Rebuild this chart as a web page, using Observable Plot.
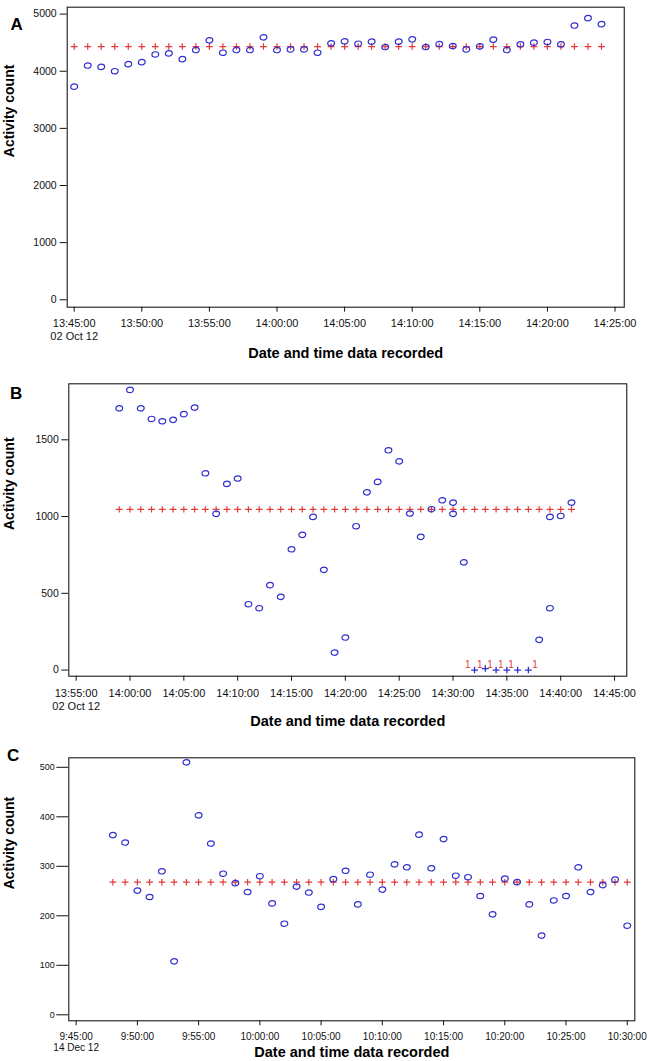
<!DOCTYPE html>
<html>
<head>
<meta charset="utf-8">
<script src="https://cdn.jsdelivr.net/npm/d3@7"></script>
<script src="https://cdn.jsdelivr.net/npm/@observablehq/plot@0.6"></script>
<style>
html, body { margin: 0; padding: 0; background: #fff; }
#chart svg { display: block; }
</style>
</head>
<body>
<div id="chart"></div>
<script>
// ---------- Panel A (02 Oct 12) ----------
const dayA = "2012-10-02";
const timesA = ["13:45","13:46","13:47","13:48","13:49","13:50","13:51","13:52","13:53","13:54",
  "13:55","13:56","13:57","13:58","13:59","14:00","14:01","14:02","14:03","14:04",
  "14:05","14:06","14:07","14:08","14:09","14:10","14:11","14:12","14:13","14:14",
  "14:15","14:16","14:17","14:18","14:19","14:20","14:21","14:22","14:23","14:24"];
const valuesA = [3730, 4100, 4076, 4000, 4124, 4159, 4294, 4312, 4212, 4371,
  4541, 4324, 4371, 4371, 4594, 4371, 4382, 4382, 4324, 4488,
  4524, 4482, 4518, 4424, 4518, 4559, 4424, 4476, 4441, 4382,
  4435, 4553, 4371, 4471, 4500, 4512, 4471, 4800, 4929, 4824];
const meanTimesA = timesA;
const meanA = 4432;
const xTicksA = ["13:45","13:50","13:55","14:00","14:05","14:10","14:15","14:20","14:25"];
const yTicksA = [0, 1000, 2000, 3000, 4000, 5000];

// ---------- Panel B (02 Oct 12) ----------
const dayB = "2012-10-02";
const timesB = ["13:59","14:00","14:01","14:02","14:03","14:04","14:05","14:06","14:07","14:08",
  "14:09","14:10","14:11","14:12","14:13","14:14","14:15","14:16","14:17","14:18",
  "14:19","14:20","14:21","14:22","14:23","14:24","14:25","14:26","14:27","14:28",
  "14:29","14:30","14:30","14:31","14:38","14:39","14:39","14:40","14:41"];
const valuesB = [1705, 1825, 1705, 1636, 1621, 1630, 1667, 1710, 1282, 1018,
  1213, 1248, 429, 403, 553, 477, 787, 881, 998, 653,
  114, 212, 937, 1158, 1226, 1432, 1360, 1020, 868, 1048,
  1106, 1091, 1018, 702, 197, 998, 403, 1004, 1091];
const meanTimesB = ["13:59","14:00","14:01","14:02","14:03","14:04","14:05","14:06","14:07","14:08",
  "14:09","14:10","14:11","14:12","14:13","14:14","14:15","14:16","14:17","14:18",
  "14:19","14:20","14:21","14:22","14:23","14:24","14:25","14:26","14:27","14:28",
  "14:29","14:30","14:31","14:32","14:33","14:34","14:35","14:36","14:37","14:38",
  "14:39","14:40","14:41"];
const meanB = 1047;
const zeroTimesB = ["14:32","14:33","14:34","14:35","14:36","14:37"];
const zeroValuesB = [0, 10, 0, 0, 0, 0];
const flagTimesB = ["14:31:22","14:32:29","14:33:26","14:34:26","14:35:23","14:37:37"];
const flagValuesB = [35, 35, 35, 35, 35, 35];
const flagTextB = ["1", "1", "1", "1", "1", "1"];
const xTicksB = ["13:55","14:00","14:05","14:10","14:15","14:20","14:25","14:30","14:35","14:40","14:45"];
const yTicksB = [0, 500, 1000, 1500];

// ---------- Panel C (14 Dec 12) ----------
const dayC = "2012-12-14";
const timesC = ["09:48","09:49","09:50","09:51","09:52","09:53","09:54","09:55","09:56","09:57",
  "09:58","09:59","10:00","10:01","10:02","10:03","10:04","10:05","10:06","10:07",
  "10:08","10:09","10:10","10:11","10:12","10:13","10:14","10:15","10:16","10:17",
  "10:18","10:19","10:20","10:21","10:22","10:23","10:24","10:25","10:26","10:27",
  "10:28","10:29","10:30"];
const valuesC = [363, 348, 251, 238, 290, 108, 510, 403, 346, 285,
  266, 248, 280, 225, 184, 259, 247, 218, 274, 291,
  223, 283, 253, 304, 298, 364, 296, 355, 281, 278,
  240, 203, 275, 268, 223, 160, 231, 240, 298, 248,
  262, 273, 180];
const meanTimesC = timesC;
const meanC = 268;
const xTicksC = ["09:45","09:50","09:55","10:00","10:05","10:10","10:15","10:20","10:25","10:30"];
const yTicksC = [0, 100, 200, 300, 400, 500];

// ---------- helpers ----------
const toDate = (day, t) => new Date(day + "T" + (t.length === 5 ? t + ":00" : t) + "Z");
const BLUE = "#2f2fcf";
const RED = "#e23a3a";
const FONT = "'Liberation Sans', Arial, Helvetica, sans-serif";

const ellipse = {
  draw(ctx, size) {
    const r = Math.sqrt(size / Math.PI), rx = r, ry = r * 0.8, k = 0.5523;
    ctx.moveTo(rx, 0);
    ctx.bezierCurveTo(rx, ry * k, rx * k, ry, 0, ry);
    ctx.bezierCurveTo(-rx * k, ry, -rx, ry * k, -rx, 0);
    ctx.bezierCurveTo(-rx, -ry * k, -rx * k, -ry, 0, -ry);
    ctx.bezierCurveTo(rx * k, -ry, rx, -ry * k, rx, 0);
    ctx.closePath();
  }
};
const cross = {
  draw(ctx, size) {
    const r = Math.sqrt(size / Math.PI);
    ctx.moveTo(-r, 0); ctx.lineTo(r, 0);
    ctx.moveTo(0, -r * 0.95); ctx.lineTo(0, r * 0.95);
  }
};

function panel(cfg) {
  const {day, times, values, meanTimes, mean, xTicks, yTicks, xDomain, yDomain,
    height, margin, letter, letterPos, yLabelX, xLabelDy, hourFmt, dateFmt,
    xFont, yFont, xLineHeight, yTickSize, yTickPadding, xTickPadding, extra = []} = cfg;
  const pts = times.map((t, i) => ({t: toDate(day, t), v: values[i]}));
  const means = meanTimes.map(t => ({t: toDate(day, t), v: mean}));
  const ticks = xTicks.map(t => toDate(day, t));
  const first = +ticks[0];
  const fmtH = d3.utcFormat(hourFmt), fmtD = d3.utcFormat(dateFmt);
  const [mt, mr, mb, ml] = margin;
  return Plot.plot({
    width: 649,
    height,
    marginTop: mt, marginRight: mr, marginBottom: mb, marginLeft: ml,
    style: {fontFamily: FONT, color: "#111", background: "#fff"},
    x: {type: "utc", domain: xDomain.map(t => toDate(day, t))},
    y: {domain: yDomain},
    marks: [
      Plot.frame({stroke: "#1a1a1a", strokeWidth: 1.1}),
      Plot.axisX({ticks, tickFormat: d => +d === first ? fmtH(d) + "\n" + fmtD(d) : fmtH(d),
        tickSize: 5, tickPadding: xTickPadding, fontSize: xFont, lineHeight: xLineHeight, label: null}),
      Plot.axisY({ticks: yTicks, tickFormat: d3.format("d"), tickSize: yTickSize, tickPadding: yTickPadding,
        fontSize: yFont, label: null}),
      Plot.dot(means, {x: "t", y: "v", r: 3.4, symbol: cross, stroke: RED, strokeWidth: 1.2, fill: "none"}),
      Plot.dot(pts, {x: "t", y: "v", r: 3.4, symbol: ellipse, stroke: BLUE, strokeWidth: 1.2, fill: "none"}),
      ...extra,
      Plot.text(["Activity count"], {text: d => d, frameAnchor: "left", dx: yLabelX - ml, rotate: -90,
        fontWeight: "bold", fontSize: 14, fill: "#000"}),
      Plot.text(["Date and time data recorded"], {text: d => d, frameAnchor: "bottom", dy: xLabelDy,
        fontWeight: "bold", fontSize: 14.5, fill: "#000"}),
      Plot.text([letter], {text: d => d, frameAnchor: "top-left", dx: letterPos[0] - ml, dy: letterPos[1],
        fontWeight: "bold", fontSize: 17, fill: "#000"})
    ]
  });
}

const chart = document.getElementById("chart");

chart.append(panel({
  day: dayA, times: timesA, values: valuesA, meanTimes: meanTimesA, mean: meanA,
  xTicks: xTicksA, yTicks: yTicksA,
  xDomain: ["13:44:29", "14:25:41"], yDomain: [-130, 5121],
  height: 368, margin: [6.7, 25.25, 61.3, 66.7],
  letter: "A", letterPos: [10, 10.5], yLabelX: 9, xLabelDy: 50.3,
  hourFmt: "%H:%M:%S", dateFmt: "%d %b %y",
  xFont: 11, yFont: 10.5, xLineHeight: 1.18, yTickSize: 7, yTickPadding: 3.5, xTickPadding: 6
}));

const zerosB = zeroTimesB.map((t, i) => ({t: toDate(dayB, t), v: zeroValuesB[i]}));
const flagsB = flagTimesB.map((t, i) => ({t: toDate(dayB, t), v: flagValuesB[i], s: flagTextB[i]}));

chart.append(panel({
  day: dayB, times: timesB, values: valuesB, meanTimes: meanTimesB, mean: meanB,
  xTicks: xTicksB, yTicks: yTicksB,
  xDomain: ["13:54:19", "14:46:08"], yDomain: [-40, 1865],
  height: 367, margin: [15.3, 22.75, 59.3, 68.3],
  letter: "B", letterPos: [9.6, 3.4], yLabelX: 9.2, xLabelDy: 49.3,
  hourFmt: "%H:%M:%S", dateFmt: "%d %b %y",
  xFont: 11, yFont: 10.5, xLineHeight: 1.2, yTickSize: 7, yTickPadding: 3, xTickPadding: 6,
  extra: [
    Plot.dot(zerosB, {x: "t", y: "v", r: 3.4, symbol: cross, stroke: BLUE, strokeWidth: 1.3, fill: "none"}),
    Plot.text(flagsB, {x: "t", y: "v", text: "s", fill: RED, fontSize: 10})
  ]
}));

chart.append(panel({
  day: dayC, times: timesC, values: valuesC, meanTimes: meanTimesC, mean: meanC,
  xTicks: xTicksC, yTicks: yTicksC,
  xDomain: ["09:44:24", "10:30:37"], yDomain: [-12.1, 519.2],
  height: 326, margin: [22.3, 14.7, 40.7, 68.3],
  letter: "C", letterPos: [6.5, -8.6], yLabelX: 9, xLabelDy: 35.7,
  hourFmt: "%-H:%M:%S", dateFmt: "%d %b %y",
  xFont: 10, yFont: 9, xLineHeight: 1.1, yTickSize: 12, yTickPadding: 2, xTickPadding: 6.5
}));
</script>
</body>
</html>
